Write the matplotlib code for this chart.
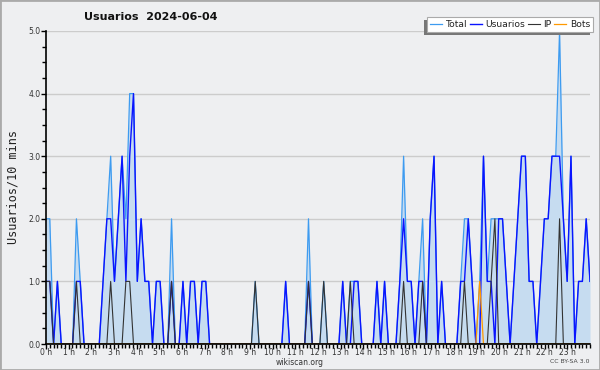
import numpy as np
import matplotlib
matplotlib.use("Agg")
import matplotlib.pyplot as plt
from matplotlib.patches import Rectangle
from matplotlib.ticker import MultipleLocator

# --- Données : nombre par tranche de 10 minutes (144 tranches sur la journée) ---
usuarios = [1, 1, 0, 1, 0, 0, 0, 0, 1, 1,
            0, 0, 0, 0, 0, 1, 2, 2, 1, 2,
            3, 1, 3, 4, 1, 2, 1, 1, 0, 1,
            1, 0, 0, 1, 0, 0, 1, 0, 1, 1,
            0, 1, 1, 0, 0, 0, 0, 0, 0, 0,
            0, 0, 0, 0, 0, 0, 0, 0, 0, 0,
            0, 0, 0, 1, 0, 0, 0, 0, 0, 1,
            0, 0, 0, 0, 0, 0, 0, 0, 1, 0,
            0, 1, 1, 0, 0, 0, 0, 1, 0, 1,
            0, 0, 0, 1, 2, 1, 1, 0, 1, 1,
            0, 2, 3, 0, 1, 0, 0, 0, 0, 1,
            1, 2, 1, 0, 0, 3, 1, 1, 0, 2,
            2, 1, 0, 1, 2, 3, 3, 1, 1, 0,
            1, 2, 2, 3, 3, 3, 2, 1, 3, 0,
            1, 1, 2, 1]

ip = [1, 1, 0, 0, 0, 0, 0, 0, 1, 0,
      0, 0, 0, 0, 0, 0, 0, 1, 0, 0,
      0, 1, 1, 0, 0, 0, 0, 0, 0, 0,
      0, 0, 0, 1, 0, 0, 0, 0, 0, 0,
      0, 0, 0, 0, 0, 0, 0, 0, 0, 0,
      0, 0, 0, 0, 0, 1, 0, 0, 0, 0,
      0, 0, 0, 0, 0, 0, 0, 0, 0, 1,
      0, 0, 0, 1, 0, 0, 0, 0, 0, 0,
      1, 0, 0, 0, 0, 0, 0, 0, 0, 0,
      0, 0, 0, 0, 1, 0, 0, 0, 0, 1,
      0, 0, 0, 0, 0, 0, 0, 0, 0, 0,
      1, 0, 0, 0, 0, 0, 0, 1, 2, 0,
      0, 0, 0, 0, 0, 0, 0, 0, 0, 0,
      0, 0, 0, 0, 0, 2, 0, 0, 0, 0,
      0, 0, 0, 0]

bots = [0, 0, 0, 0, 0, 0, 0, 0, 0, 0,
        0, 0, 0, 0, 0, 0, 0, 0, 0, 0,
        0, 0, 0, 0, 0, 0, 0, 0, 0, 0,
        0, 0, 0, 0, 0, 0, 0, 0, 0, 0,
        0, 0, 0, 0, 0, 0, 0, 0, 0, 0,
        0, 0, 0, 0, 0, 0, 0, 0, 0, 0,
        0, 0, 0, 0, 0, 0, 0, 0, 0, 0,
        0, 0, 0, 0, 0, 0, 0, 0, 0, 0,
        0, 0, 0, 0, 0, 0, 0, 0, 0, 0,
        0, 0, 0, 0, 0, 0, 0, 0, 0, 0,
        0, 0, 0, 0, 0, 0, 0, 0, 0, 0,
        0, 0, 0, 0, 1, 0, 0, 0, 0, 0,
        0, 0, 0, 0, 0, 0, 0, 0, 0, 0,
        0, 0, 0, 0, 0, 0, 0, 0, 0, 0,
        0, 0, 0, 0]

total = [2, 2, 0, 1, 0, 0, 0, 0, 2, 1,
         0, 0, 0, 0, 0, 1, 2, 3, 1, 2,
         3, 2, 4, 4, 1, 2, 1, 1, 0, 1,
         1, 0, 0, 2, 0, 0, 1, 0, 1, 1,
         0, 1, 1, 0, 0, 0, 0, 0, 0, 0,
         0, 0, 0, 0, 0, 1, 0, 0, 0, 0,
         0, 0, 0, 1, 0, 0, 0, 0, 0, 2,
         0, 0, 0, 1, 0, 0, 0, 0, 1, 0,
         1, 1, 1, 0, 0, 0, 0, 1, 0, 1,
         0, 0, 0, 1, 3, 1, 1, 0, 1, 2,
         0, 2, 3, 0, 1, 0, 0, 0, 0, 1,
         2, 2, 1, 0, 1, 3, 1, 2, 2, 2,
         2, 1, 0, 1, 2, 3, 3, 1, 1, 0,
         1, 2, 2, 3, 3, 5, 2, 1, 3, 0,
         1, 1, 2, 1]

hour_labels = [f"{h} h" for h in range(24)]

# --- Couleurs ---
bg = "#eeeff1"
c_total = "#3d9bf0"
c_fill = "#c6dcf0"
c_users = "#0a14ff"
c_ip = "#333333"
c_bots = "#ff9900"

# 144 points répartis sur toute la largeur de l'axe
x = np.linspace(0, 24, len(total))

fig = plt.figure(figsize=(6, 3.7), dpi=100, facecolor=bg)
ax = fig.add_axes([46 / 600, 26 / 370, 544 / 600, 313 / 370])
ax.set_facecolor(bg)

ax.fill_between(x, total, 0, color=c_fill, lw=0, zorder=2)
ax.plot(x, total, color=c_total, lw=0.9, label="Total", zorder=3)
ax.plot(x, usuarios, color=c_users, lw=1.0, label="Usuarios", zorder=4)
ax.plot(x, ip, color=c_ip, lw=0.8, label="IP", zorder=5)
ax.plot(x, bots, color=c_bots, lw=0.9, label="Bots", zorder=6)

# --- Axes ---
ax.set_xlim(0, 24)
ax.set_ylim(0, 5)
for s in ["top", "right"]:
    ax.spines[s].set_visible(False)
for s in ["left", "bottom"]:
    ax.spines[s].set_color("black")
    ax.spines[s].set_linewidth(1.2)
    ax.spines[s].set_zorder(7)

ax.set_xticks(range(24))
ax.set_xticklabels(hour_labels)
ax.xaxis.set_minor_locator(MultipleLocator(1 / 6))
ax.set_yticks([0, 1, 2, 3, 4, 5])
ax.set_yticklabels(["0.0", "1.0", "2.0", "3.0", "4.0", "5.0"])
ax.yaxis.set_minor_locator(MultipleLocator(0.25))
ax.tick_params(axis="both", which="major", length=3.5, width=1, color="black",
               labelsize=5.5, labelcolor="#333333", pad=0.5)
ax.tick_params(axis="x", which="major", pad=-0.5)
ax.tick_params(axis="both", which="minor", length=3, width=1, color="black")

ax.grid(axis="y", color="#cccccc", lw=1, zorder=1)
ax.set_axisbelow(True)

ax.set_ylabel("Usuarios/10 mins", family="DejaVu Sans Mono", fontsize=8.5,
              color="#222222", labelpad=6)

# --- Textes ---
fig.text(0.252, 0.954, "Usuarios  2024-06-04", ha="center", va="center",
         fontsize=8, fontweight="bold", color="#111111")
fig.text(0.5, 0.021, "wikiscan.org", ha="center", va="center",
         fontsize=5.5, color="#333333")
fig.text(589 / 600, 0.024, "CC BY-SA 3.0", ha="right", va="center",
         fontsize=4.4, color="#444444")

# --- Légende avec ombre décalée vers le bas-gauche ---
leg = fig.legend(loc="upper right", bbox_to_anchor=(593 / 600, 1 - 17 / 370),
                 ncol=4, fontsize=6.6, frameon=True, fancybox=False,
                 handlelength=1.3, handletextpad=0.4, columnspacing=0.3,
                 borderpad=0.3, borderaxespad=0)
leg.get_frame().set_facecolor("white")
leg.get_frame().set_edgecolor("#aaaaaa")
leg.get_frame().set_linewidth(0.8)
leg.get_frame().set_alpha(1)
leg.set_zorder(10)
for t in leg.get_texts():
    t.set_color("#222222")

fig.canvas.draw()
bb = leg.get_window_extent()
fig.patches.append(Rectangle((bb.x0 - 3, bb.y0 - 3), bb.width, bb.height,
                             transform=None, facecolor="#777777",
                             edgecolor="none", zorder=9))

# bordure grise autour de l'image
fig.patches.append(Rectangle((0, 0), 1, 1, transform=fig.transFigure,
                             facecolor="none", edgecolor="#aaaaaa", lw=2,
                             zorder=20))

fig.savefig("out.png", dpi=100, facecolor=bg)
